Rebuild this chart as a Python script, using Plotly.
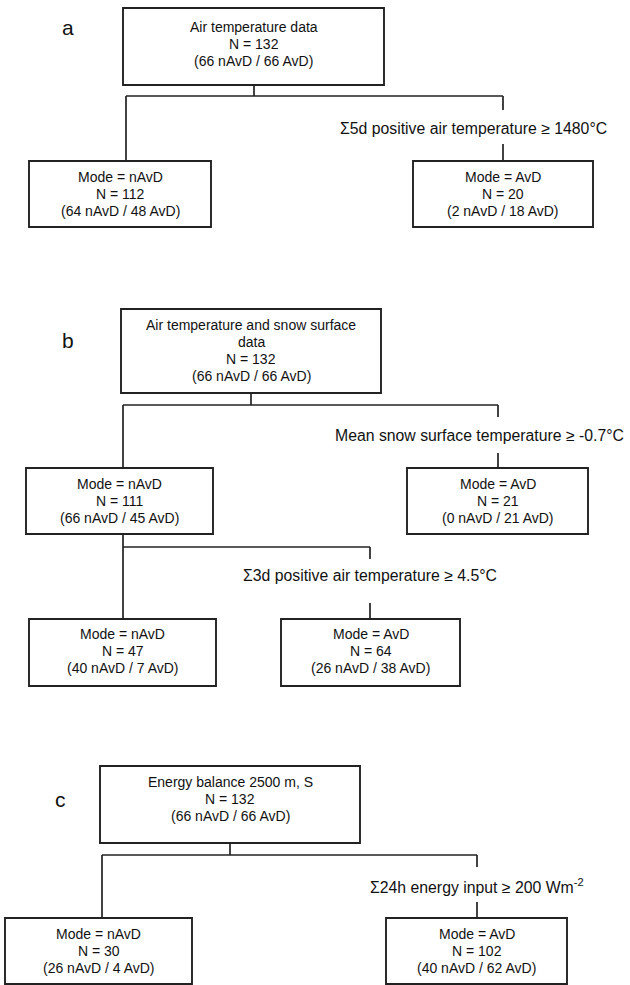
import plotly.graph_objects as go

# ---------------- data ----------------
panel_labels = ["a", "b", "c"]

node_ids = ["a0", "a1", "a2", "b0", "b1", "b2", "b3", "b4", "c0", "c1", "c2"]
node_titles = [
    "Air temperature data", "Mode = nAvD", "Mode = AvD",
    "Air temperature and snow surface|data", "Mode = nAvD", "Mode = AvD",
    "Mode = nAvD", "Mode = AvD",
    "Energy balance 2500 m, S", "Mode = nAvD", "Mode = AvD",
]
node_N = [132, 112, 20, 132, 111, 21, 47, 64, 132, 30, 102]
node_nAvD = [66, 64, 2, 66, 66, 0, 40, 26, 66, 26, 40]
node_AvD = [66, 48, 18, 66, 45, 21, 7, 38, 66, 4, 62]

split_parent = ["a0", "b0", "b1", "c0"]
split_left = ["a1", "b1", "b3", "c1"]
split_right = ["a2", "b2", "b4", "c2"]
split_conditions = [
    "Σ5d positive air temperature ≥ 1480°C",
    "Mean snow surface temperature ≥ -0.7°C",
    "Σ3d positive air temperature ≥ 4.5°C",
    "Σ24h energy input ≥ 200 Wm<sup>-2</sup>",
]

# ---------------- geometry (pixel layout) ----------------
label_pos = {"a": (68, 27), "b": (68, 340), "c": (60, 799)}

# x0, x1, y0, y1, text-centre y
box_geom = {
    "a0": (123, 384, 8, 85, 44),
    "a1": (29, 211, 161, 227, 194),
    "a2": (413, 593, 161, 227, 194),
    "b0": (121, 381, 309, 393, 350),
    "b1": (26, 213, 468, 534, 501),
    "b2": (407, 588, 468, 534, 501),
    "b3": (29, 216, 619, 686, 651),
    "b4": (281, 460, 619, 686, 651),
    "c0": (100, 360, 766, 843, 799),
    "c1": (5, 192, 918, 984, 951),
    "c2": (386, 567, 918, 984, 951),
}
# parent connector x, bar y, left x, right x, cond y, cond centre x, gap top, gap bottom
split_geom = [
    (254, 96, 126, 503, 128, 473, 110, 144),
    (251, 405, 123, 498, 435, 479, 417, 453),
    (123, 547, 123, 370, 575, 370, 559, 603),
    (230, 855, 102, 477, 886, 477, 867, 902),
]

LINE = "#222222"
FONT = "Liberation Sans, Arial, sans-serif"
LSP = 17

fig = go.Figure()
shapes = []
annotations = []

def add_line(x0, y0, x1, y1):
    shapes.append(dict(type="line", xref="x", yref="y", x0=x0, y0=y0, x1=x1, y1=y1,
                       line=dict(color=LINE, width=1.7)))

def add_text(x, y, text, size):
    annotations.append(dict(x=x, y=y, xref="x", yref="y", text=text, showarrow=False,
                            xanchor="center", yanchor="middle",
                            font=dict(family=FONT, size=size, color="#111111")))

for i, nid in enumerate(node_ids):
    x0, x1, y0, y1, ty = box_geom[nid]
    shapes.append(dict(type="rect", xref="x", yref="y", x0=x0, x1=x1, y0=y0, y1=y1,
                       line=dict(color=LINE, width=1.9), fillcolor="rgba(0,0,0,0)"))
    lines = node_titles[i].split("|") + [f"N = {node_N[i]}",
                                         f"({node_nAvD[i]} nAvD / {node_AvD[i]} AvD)"]
    n = len(lines)
    cx = (x0 + x1) / 2
    for k, t in enumerate(lines):
        add_text(cx, ty + (k - (n - 1) / 2) * LSP, t, 14)

for j, pid in enumerate(split_parent):
    px, by, lx, rx, cy, ccx, g0, g1 = split_geom[j]
    pb = box_geom[pid][3]
    ltop = box_geom[split_left[j]][2]
    rtop = box_geom[split_right[j]][2]
    add_line(px, pb, px, by)
    add_line(lx, by, rx, by)
    add_line(lx, by, lx, ltop)
    add_line(rx, by, rx, g0)
    add_line(rx, g1, rx, rtop)
    add_text(ccx, cy, split_conditions[j], 15.8)

for lab in panel_labels:
    x, y = label_pos[lab]
    add_text(x, y, lab, 21)

fig.update_layout(
    width=630, height=985,
    margin=dict(l=0, r=0, t=0, b=0),
    paper_bgcolor="white", plot_bgcolor="white",
    xaxis=dict(range=[0, 630], visible=False, fixedrange=True),
    yaxis=dict(range=[985, 0], visible=False, fixedrange=True),
    shapes=shapes, annotations=annotations, showlegend=False,
)

fig.write_html("out.html", config={"displayModeBar": False},
               post_script="document.body.style.margin='0px';document.body.style.overflow='hidden';")
